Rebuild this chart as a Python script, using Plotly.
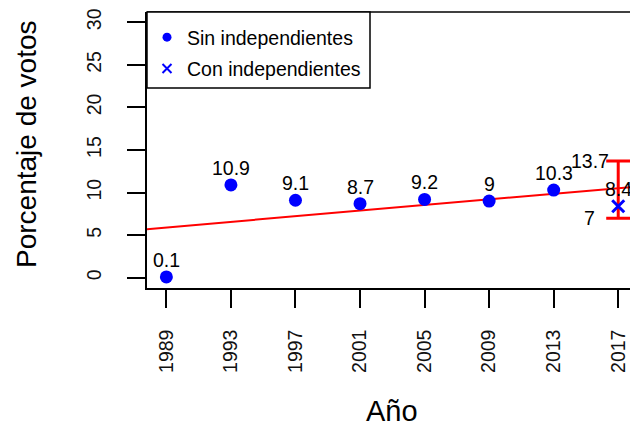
import numpy as np
import plotly.graph_objects as go

# Election years and vote share (%) without independents
anios = [1989, 1993, 1997, 2001, 2005, 2009, 2013]
votos_sin = [0.1, 10.9, 9.1, 8.7, 9.2, 9.0, 10.3]

# 2017: vote share including independents, with its min/max range
anio_con = [2017]
votos_con = [8.4]
con_min = [7.0]
con_max = [13.7]

x_ticks = [1989, 1993, 1997, 2001, 2005, 2009, 2013, 2017]
y_ticks = [0, 5, 10, 15, 20, 25, 30]

FONT = "Liberation Sans, Arial, Helvetica, sans-serif"
W, H = 630, 427
ML, MR, MT, MB = 147, 0, 12, 139
PW, PH = W - ML - MR, H - MT - MB
x_range = [1987.8, 2017.73]
y_range = [-1.2, 31.2]


def lab(v):
    return f"{v:g}"


def px_x(px):
    """Pixel column -> paper x."""
    return (px - ML) / PW


def px_y(py):
    """Pixel row -> paper y."""
    return (H - MB - py) / PH


# Linear trend fitted over all the years
x_all = np.array(anios + anio_con, dtype=float)
y_all = np.array(votos_sin + votos_con, dtype=float)
pend, inter = np.polyfit(x_all, y_all, 1)
x_fit = np.array(x_range)
y_fit = inter + pend * x_fit

fig = go.Figure()

fig.add_trace(go.Scatter(
    x=x_fit, y=y_fit, mode="lines",
    line=dict(color="#ff0000", width=2),
    showlegend=False, hoverinfo="skip",
))

fig.add_trace(go.Scatter(
    x=anios, y=votos_sin, mode="markers",
    marker=dict(color="#0000ff", size=13, symbol="circle"),
    showlegend=False,
))

err_up = [mx - v for mx, v in zip(con_max, votos_con)]
err_dn = [v - mn for mn, v in zip(con_min, votos_con)]
fig.add_trace(go.Scatter(
    x=anio_con, y=votos_con, mode="markers",
    marker=dict(color="#0000ff", size=12, symbol="x-thin",
                line=dict(color="#0000ff", width=3)),
    error_y=dict(type="data", symmetric=False, array=err_up, arrayminus=err_dn,
                 color="#ff0000", thickness=3, width=12),
    showlegend=False,
))

# Legend entries
fig.add_trace(go.Scatter(
    x=[None], y=[None], mode="markers", name="Sin independientes",
    marker=dict(color="#0000ff", size=9, symbol="circle"),
    legendgroup="a",
))
fig.add_trace(go.Scatter(
    x=[None], y=[None], mode="markers", name="Con independientes",
    marker=dict(color="#0000ff", size=9, symbol="x-thin",
                line=dict(color="#0000ff", width=2)),
    legendgroup="b",
))

lab_font = dict(family=FONT, size=19.5, color="black")
annotations = []

# Value labels above each point
for xx, v in zip(anios + anio_con, votos_sin + votos_con):
    annotations.append(dict(
        x=xx, y=v, xref="x", yref="y", text=lab(v), showarrow=False,
        xanchor="center", yanchor="middle", yshift=17, font=lab_font,
    ))

# Range ends for 2017
for xx, mn, mx in zip(anio_con, con_min, con_max):
    annotations.append(dict(
        x=xx, y=mx, xref="x", yref="y", text=lab(mx), showarrow=False,
        xanchor="right", yanchor="middle", xshift=-7, font=lab_font,
    ))
    annotations.append(dict(
        x=xx, y=mn, xref="x", yref="y", text=lab(mn), showarrow=False,
        xanchor="right", yanchor="middle", xshift=-21, font=lab_font,
    ))

annotations.append(dict(
    text="Año", xref="paper", yref="paper",
    x=px_x(391.5), y=px_y(411),
    xanchor="center", yanchor="middle", showarrow=False,
    font=dict(family=FONT, size=29, color="black"),
))
annotations.append(dict(
    text="Porcentaje de votos", xref="paper", yref="paper",
    x=px_x(26), y=px_y(144), textangle=-90,
    xanchor="center", yanchor="middle", showarrow=False,
    font=dict(family=FONT, size=28, color="black"),
))

shapes = [
    # top edge of the plot box
    dict(type="line", xref="paper", yref="paper", x0=0, x1=1, y0=1, y1=1,
         line=dict(color="black", width=1.5)),
    # legend frame
    dict(type="rect", xref="paper", yref="paper", layer="above",
         x0=0, x1=px_x(370), y0=px_y(88), y1=1,
         fillcolor="white", line=dict(color="black", width=1.5)),
]

fig.update_layout(
    width=W, height=H,
    margin=dict(l=ML, r=MR, t=MT, b=MB),
    paper_bgcolor="white", plot_bgcolor="white",
    font=dict(family=FONT, size=19.5, color="black"),
    showlegend=True,
    legend=dict(x=0, y=px_y(18), xanchor="left", yanchor="top",
                bgcolor="rgba(0,0,0,0)", borderwidth=0,
                font=lab_font, tracegroupgap=3, traceorder="grouped"),
    annotations=annotations,
    shapes=shapes,
)

fig.update_xaxes(
    range=x_range, tickvals=x_ticks, ticktext=[str(t) for t in x_ticks],
    tickangle=-90, ticks="outside", ticklen=18, tickwidth=1.5, tickcolor="black",
    showline=True, linecolor="black", linewidth=1.5, showgrid=False, zeroline=False,
    ticklabelstandoff=14, tickfont=dict(family=FONT, size=19.5, color="#111"),
)
fig.update_yaxes(
    range=y_range, tickvals=y_ticks, ticktext=[str(t) for t in y_ticks],
    tickangle=-90, ticks="outside", ticklen=18, tickwidth=1.5, tickcolor="black",
    showline=True, linecolor="black", linewidth=1.5, showgrid=False, zeroline=False,
    ticklabelstandoff=18, tickfont=dict(family=FONT, size=19.5, color="#111"),
)

fig.write_html("out.html")
